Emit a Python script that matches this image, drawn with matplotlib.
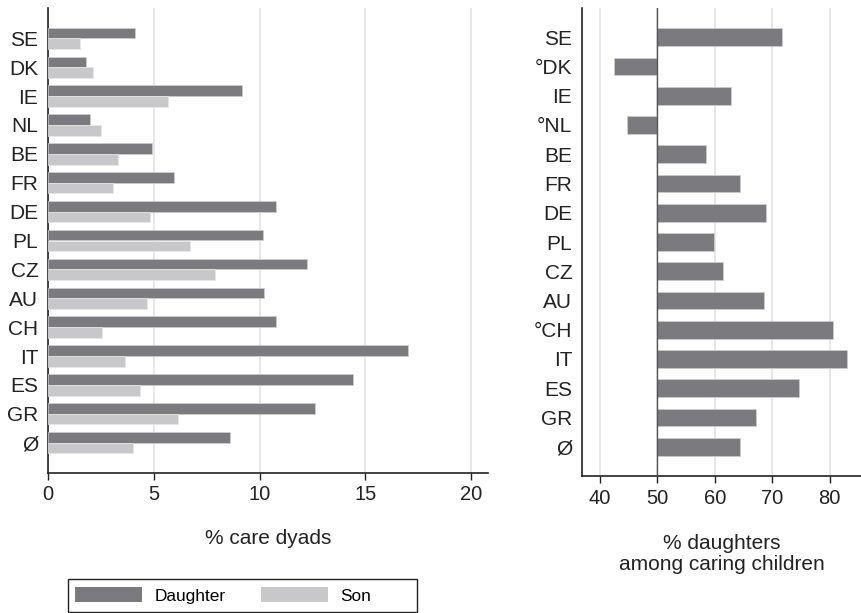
import numpy as np
import matplotlib.pyplot as plt
from matplotlib.patches import Patch, Rectangle

plt.rcParams['font.family'] = ['Liberation Sans', 'DejaVu Sans']

# data, top to bottom
countries = ["SE", "DK", "IE", "NL", "BE", "FR", "DE", "PL", "CZ", "AU", "CH", "IT", "ES", "GR", "Ø"]
countries_right = ["SE", "°DK", "IE", "°NL", "BE", "FR", "DE", "PL", "CZ", "AU", "°CH", "IT", "ES", "GR", "Ø"]
daughter = [4.1, 1.8, 9.15, 2.0, 4.9, 5.95, 10.8, 10.15, 12.25, 10.2, 10.8, 17.0, 14.4, 12.6, 8.6]
son = [1.5, 2.15, 5.65, 2.5, 3.3, 3.05, 4.8, 6.7, 7.9, 4.7, 2.55, 3.65, 4.35, 6.15, 4.0]
pct_daughters = [71.7, 42.5, 62.8, 44.8, 58.4, 64.3, 68.9, 59.8, 61.5, 68.6, 80.6, 83.0, 74.7, 67.2, 64.3]

dark = '#7b7b7f'
light = '#c8c8ca'
grid = '#e3e3e3'
axcol = '#222222'

fig = plt.figure(figsize=(8.62, 6.13), dpi=100)
W, H = 862, 613

# left panel: % care dyads
ax1 = fig.add_axes([48/W, 1-473/H, (488-48)/W, (473-8)/H])
y = np.arange(len(countries))
h = 0.37
ax1.barh(y - h/2, daughter, height=h, color=dark, edgecolor='#d0d0d0', linewidth=0.5, zorder=3)
ax1.barh(y + h/2, son, height=h, color=light, edgecolor='#e8e8e8', linewidth=0.5, zorder=3)
ax1.set_xlim(0, 20.8)
ax1.set_ylim(15.05, -1.05)
ax1.set_xticks([0, 5, 10, 15, 20])
ax1.set_yticks(y)
ax1.set_yticklabels(countries)
ax1.xaxis.grid(True, color=grid, linewidth=1.2, zorder=0)
ax1.tick_params(axis='y', length=0, pad=7, labelsize=15, labelcolor=axcol)
ax1.tick_params(axis='x', length=5, width=1, color=axcol, labelsize=14.5, pad=4, labelcolor=axcol)
ax1.set_xlabel("% care dyads", fontsize=15, labelpad=18, color=axcol)
for s in ['top', 'right']:
    ax1.spines[s].set_visible(False)
for s in ['left', 'bottom']:
    ax1.spines[s].set_color(axcol)
    ax1.spines[s].set_linewidth(1.2)

# right panel: % daughters among caring children
ax2 = fig.add_axes([582/W, 1-476/H, (862-582)/W, (476-8)/H])
base = 50
ax2.barh(y, np.array(pct_daughters) - base, left=base, height=0.6,
         color=dark, edgecolor='#d0d0d0', linewidth=0.5, zorder=3)
ax2.axvline(base, color='#555555', linewidth=1, zorder=4)
ax2.set_xlim(36.9, 85.6)
ax2.set_ylim(15, -1)
ax2.set_xticks([40, 50, 60, 70, 80])
ax2.set_yticks(y)
ax2.set_yticklabels(countries_right)
ax2.xaxis.grid(True, color=grid, linewidth=1.2, zorder=0)
ax2.tick_params(axis='y', length=0, pad=7, labelsize=15, labelcolor=axcol)
ax2.tick_params(axis='x', length=5, width=1, color=axcol, labelsize=14.5, pad=4, labelcolor=axcol)
ax2.set_xlabel("% daughters\namong caring children", fontsize=15, labelpad=19,
               color=axcol, linespacing=1.15)
for s in ['top', 'right']:
    ax2.spines[s].set_visible(False)
for s in ['left', 'bottom']:
    ax2.spines[s].set_color(axcol)
    ax2.spines[s].set_linewidth(1.2)

# legend: entries without frame, box drawn separately
handles = [Patch(facecolor=dark, edgecolor='none', label="Daughter"),
           Patch(facecolor=light, edgecolor='none', label="Son")]
fig.legend(handles=handles, loc='center left', bbox_to_anchor=(68/W, 1-595.5/H),
           ncol=2, frameon=False, fontsize=12.4,
           handlelength=3.9, handleheight=0.9, columnspacing=2.0,
           handletextpad=0.75, borderpad=0.4, borderaxespad=0)
fig.add_artist(Rectangle((68/W, 1-612/H), (417-68)/W, (612-579)/H,
                         transform=fig.transFigure, fill=False,
                         edgecolor=axcol, linewidth=1))

fig.savefig("out.png", dpi=100)
